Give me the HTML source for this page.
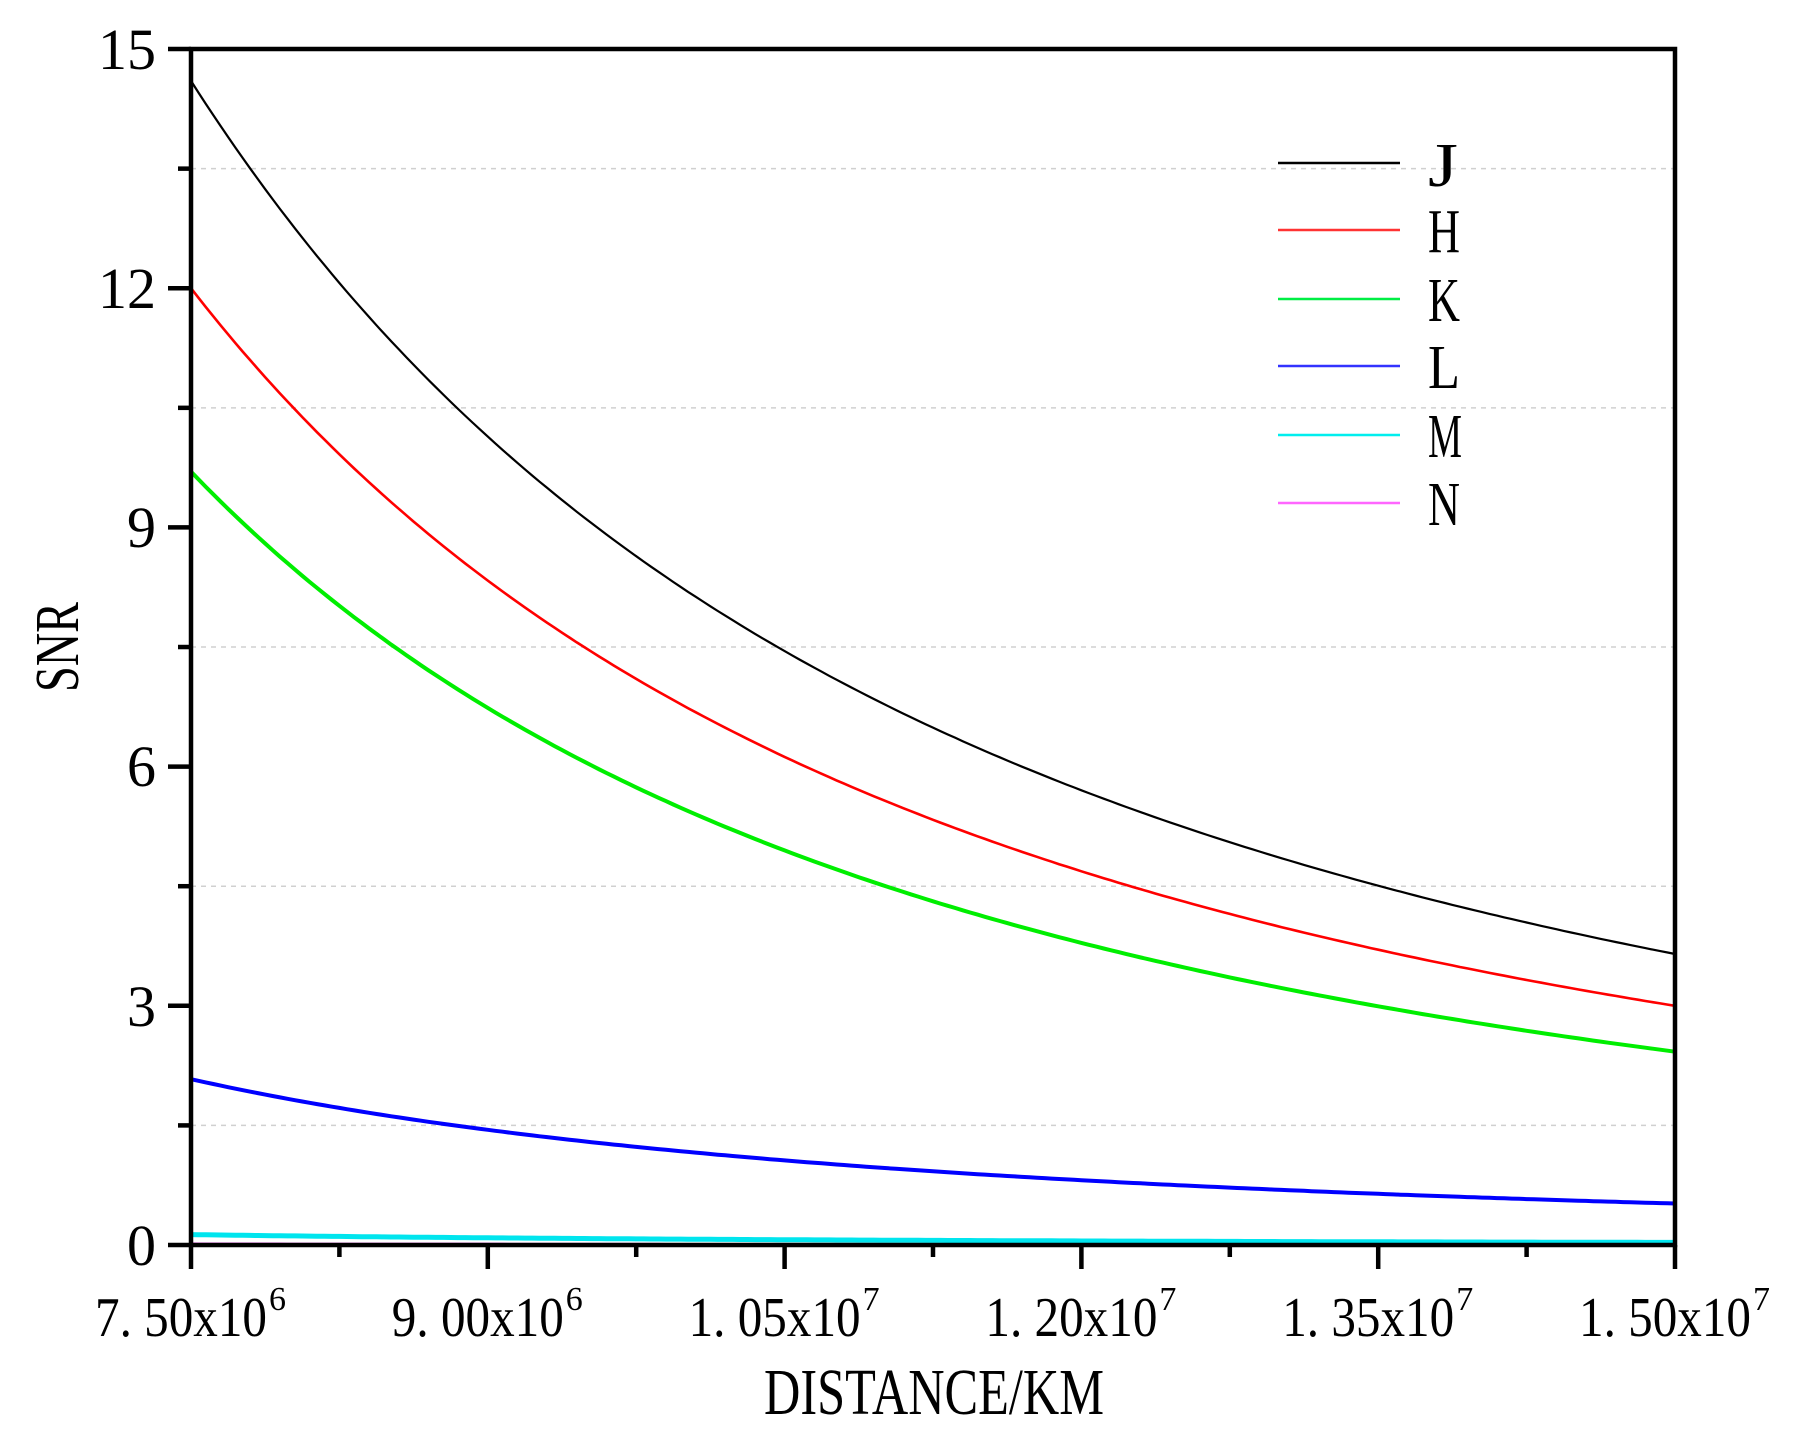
<!DOCTYPE html>
<html><head><meta charset="utf-8"><style>
html,body{margin:0;padding:0;background:#fff;}
svg{display:block;}
text{font-family:"Liberation Serif",serif;fill:#000;}
</style></head><body>
<svg id="s" width="1794" height="1446" viewBox="0 0 1794 1446" xmlns="http://www.w3.org/2000/svg">
<g id="grid" stroke="#d0d0d0" stroke-width="1.5" stroke-dasharray="5,5"></g>
<g id="curves" fill="none"></g>
<rect x="191" y="49" width="1484" height="1196" fill="none" stroke="#000" stroke-width="4.5"/>
<g id="ticks" stroke="#000" stroke-width="4.5"></g>
<g font-size="58" text-anchor="end">
<text x="156" y="69">15</text>
<text x="156" y="308">12</text>
<text x="156" y="547">9</text>
<text x="156" y="786">6</text>
<text x="156" y="1026">3</text>
<text x="156" y="1265">0</text>
</g>
<g id="xl" font-size="56"></g>
<text x="764" y="1414" font-size="66" textLength="340" lengthAdjust="spacingAndGlyphs">DISTANCE/KM</text>
<text transform="translate(78,692) rotate(-90)" font-size="62" textLength="90" lengthAdjust="spacingAndGlyphs">SNR</text>
<g id="leg" stroke-width="2.5"></g>
<g font-size="62">
<text x="1428" y="186" textLength="30" lengthAdjust="spacingAndGlyphs">J</text>
<text x="1428" y="252" textLength="32" lengthAdjust="spacingAndGlyphs">H</text>
<text x="1428" y="321" textLength="32" lengthAdjust="spacingAndGlyphs">K</text>
<text x="1428" y="388" textLength="32" lengthAdjust="spacingAndGlyphs">L</text>
<text x="1428" y="457" textLength="34" lengthAdjust="spacingAndGlyphs">M</text>
<text x="1428" y="525" textLength="32" lengthAdjust="spacingAndGlyphs">N</text>
</g>
</svg>
<script>
var NS="http://www.w3.org/2000/svg";
function el(p,t,a){var e=document.createElementNS(NS,t);for(var k in a)e.setAttribute(k,a[k]);document.getElementById(p).appendChild(e);return e;}
var X0=191,W=1484,Y0=1245,U=79.73;
function X(d){return X0+(d-7.5)/7.5*W;}
function Y(v){return Y0-v*U;}
[1.5,4.5,7.5,10.5,13.5].forEach(function(v){el("grid","line",{x1:X0,x2:X0+W,y1:Y(v),y2:Y(v)});});
var series=[[14.6,"#000",2.2],[12.0,"#ff0000",2.6],[9.7,"#00ee00",4],[2.08,"#0000ff",4],[0.13,"#00e5ee",5],[0.012,"#ff00ff",3]];
series.forEach(function(s){var pts=[];for(var i=0;i<=200;i++){var d=7.5+7.5*i/200;var v=s[0]*Math.pow(7.5/d,2);pts.push(X(d).toFixed(1)+","+Y(v).toFixed(1));}
el("curves","polyline",{points:pts.join(" "),stroke:s[1],"stroke-width":s[2]});});
for(var i=0;i<=5;i++){var y=Y(i*3);el("ticks","line",{x1:168,x2:X0,y1:y,y2:y});if(i<5){var y2=Y(i*3+1.5);el("ticks","line",{x1:178,x2:X0,y1:y2,y2:y2});}}
var labs=[["7. 50x10","6"],["9. 00x10","6"],["1. 05x10","7"],["1. 20x10","7"],["1. 35x10","7"],["1. 50x10","7"]];
for(var i=0;i<=5;i++){var x=X0+W*i/5;el("ticks","line",{x1:x,x2:x,y1:Y0,y2:1269});if(i<5){var xm=x+W/10;el("ticks","line",{x1:xm,x2:xm,y1:Y0,y2:1257});}
var t=el("xl","text",{x:x-96,y:1336,textLength:172,lengthAdjust:"spacingAndGlyphs"});t.textContent=labs[i][0];
var s=el("xl","text",{x:x+78,y:1310,"font-size":34});s.textContent=labs[i][1];}
var ly=[163,230,299,366,435,503],lc=["#000","#ff3333","#00ee44","#3333ff","#00eeee","#ff66ff"];
ly.forEach(function(y,i){el("leg","line",{x1:1278,x2:1400,y1:y,y2:y,stroke:lc[i]});});
</script>
</body></html>
